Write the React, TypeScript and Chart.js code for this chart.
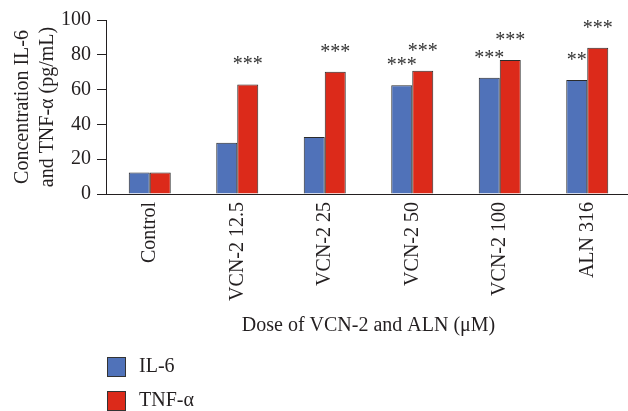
import React, { useEffect, useRef } from 'react';
import { Chart, registerables } from 'chart.js';

Chart.register(...registerables);

const categories = ['Control', 'VCN-2 12.5', 'VCN-2 25', 'VCN-2 50', 'VCN-2 100', 'ALN 316'];
const il6Values = [12.3, 29.5, 32.8, 62.5, 66.8, 65.5];
const tnfValues = [12.3, 63.0, 70.2, 70.8, 77.0, 84.0];
const il6Stars = ['', '', '', '***', '***', '**'];
const tnfStars = ['', '***', '***', '***', '***', '***'];
const yTickValues = [0, 20, 40, 60, 80, 100];
const seriesNames = ['IL-6', 'TNF-α'];
const seriesColors = ['#5072b9', '#dc2a1a'];
const yTitle = ['Concentration IL-6', 'and TNF-α (pg/mL)'];
const xTitle = 'Dose of VCN-2 and ALN (μM)';

const FONT = '"Liberation Serif", "Times New Roman", serif';
const INK = '#231f20';

const starsPlugin = {
  id: 'stars',
  afterDatasetsDraw(chart: any) {
    const ctx = chart.ctx;
    ctx.save();
    ctx.font = `20px ${FONT}`;
    ctx.fillStyle = '#333333';
    ctx.textAlign = 'center';
    ctx.textBaseline = 'alphabetic';
    chart.data.datasets.forEach((ds: any, di: number) => {
      const meta = chart.getDatasetMeta(di);
      meta.data.forEach((el: any, i: number) => {
        const s = ds.stars?.[i];
        if (s) ctx.fillText(s, el.x, el.y - 14);
      });
    });
    ctx.restore();
  },
};

const stackedLegend = {
  id: 'stackedLegend',
  afterDraw(chart: any) {
    const ctx = chart.ctx;
    const x0 = chart.chartArea.left + 1;
    const base = chart.scales.x.bottom;
    ctx.save();
    ctx.font = `20px ${FONT}`;
    ctx.textAlign = 'left';
    ctx.textBaseline = 'middle';
    chart.data.datasets.forEach((ds: any, i: number) => {
      const cy = base + 29 + 34 * i;
      ctx.fillStyle = ds.backgroundColor;
      ctx.fillRect(x0, cy - 10, 19, 20);
      ctx.strokeStyle = '#333333';
      ctx.lineWidth = 1;
      ctx.strokeRect(x0 + 0.5, cy - 9.5, 18, 19);
      ctx.fillStyle = INK;
      ctx.fillText(ds.label, x0 + 32, cy);
    });
    ctx.restore();
  },
};

export default function App() {
  const ref = useRef<HTMLCanvasElement | null>(null);

  useEffect(() => {
    if (!ref.current) return;
    const chart = new Chart(ref.current, {
      type: 'bar',
      data: {
        labels: categories,
        datasets: [
          {
            label: seriesNames[0],
            data: il6Values,
            backgroundColor: seriesColors[0],
            borderColor: '#2b2b2b',
            borderWidth: 1,
            stars: il6Stars,
          } as any,
          {
            label: seriesNames[1],
            data: tnfValues,
            backgroundColor: seriesColors[1],
            borderColor: '#2b2b2b',
            borderWidth: 1,
            stars: tnfStars,
          } as any,
        ],
      },
      options: {
        responsive: false,
        animation: false,
        devicePixelRatio: 1,
        layout: { padding: { top: 20, bottom: 73, left: 0, right: 3 } },
        datasets: { bar: { categoryPercentage: 0.48, barPercentage: 1.0 } },
        plugins: {
          legend: { display: false },
          tooltip: { enabled: false },
        },
        scales: {
          x: {
            grid: { display: false },
            border: { display: true, color: INK, width: 1 },
            ticks: {
              color: INK,
              font: { family: FONT, size: 20 },
              maxRotation: 90,
              minRotation: 90,
              padding: 0,
              autoSkip: false,
            },
            title: {
              display: true,
              text: xTitle,
              color: INK,
              font: { family: FONT, size: 20, lineHeight: 1.25 },
              padding: { top: 0, bottom: 0 },
            },
            afterFit(scale: any) {
              scale.height = 144;
            },
          },
          y: {
            min: 0,
            max: 100,
            afterBuildTicks(scale: any) {
              scale.ticks = yTickValues.map((v) => ({ value: v }));
            },
            grid: {
              display: true,
              drawOnChartArea: false,
              drawTicks: true,
              tickLength: 9,
              color: INK,
              lineWidth: 1,
            },
            border: { display: true, color: INK, width: 1 },
            ticks: {
              color: INK,
              font: { family: FONT, size: 20 },
              padding: 6,
            },
            title: {
              display: true,
              text: yTitle,
              color: INK,
              font: { family: FONT, size: 20, lineHeight: 1.25 },
              padding: { top: 10, bottom: 0 },
            },
            afterFit(scale: any) {
              scale.width = 106;
            },
          },
        },
      },
      plugins: [starsPlugin, stackedLegend],
    } as any);
    return () => chart.destroy();
  }, []);

  return (
    <div style={{ position: 'fixed', left: 0, top: 0, width: 628, height: 411, overflow: 'hidden' }}>
      <canvas ref={ref} width={634} height={411} style={{ display: 'block' }} />
    </div>
  );
}
